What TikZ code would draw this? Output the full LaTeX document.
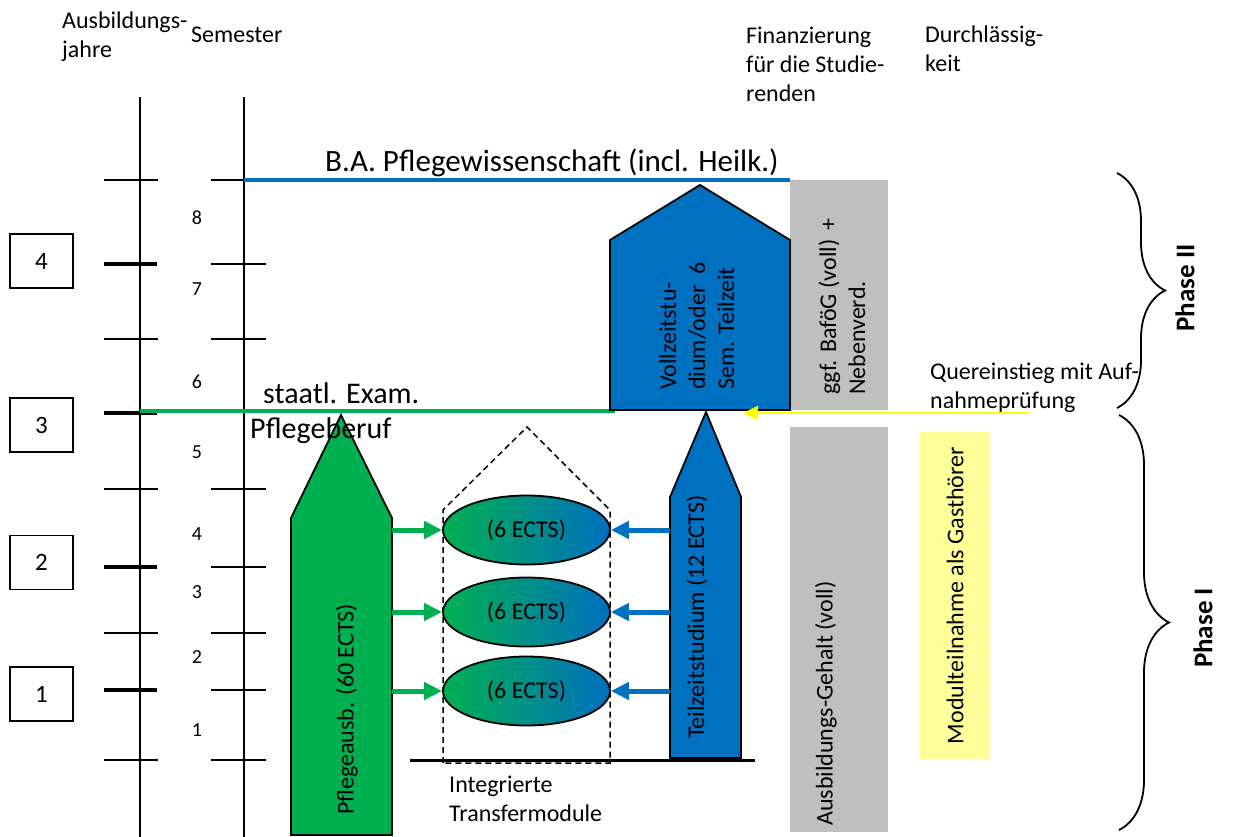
\documentclass[tikz,border=0pt]{standalone}
\usepackage{fontspec}
\setmainfont{Carlito}
\usetikzlibrary{arrows.meta,decorations.pathreplacing,shapes.geometric}
\definecolor{grn}{HTML}{00B050}
\definecolor{blu}{HTML}{0070C0}
\definecolor{gry}{HTML}{BFBFBF}
\definecolor{ylw}{HTML}{FFFF00}
\definecolor{lylw}{HTML}{FFFF99}
\begin{document}
\begin{tikzpicture}[x=1pt,y=-1pt,
  every node/.style={inner sep=0pt,font=\fontsize{24}{29}\selectfont},
  axisline/.style={line width=1.8pt},
  thintick/.style={line width=1.3pt},
  thicktick/.style={line width=4.5pt},
  yearbox/.style={draw,line width=1.3pt,minimum width=63pt,minimum height=54pt,font=\fontsize{25}{30}\selectfont},
  semnum/.style={font=\fontsize{20}{24}\selectfont},
  shapeout/.style={draw=black,line width=1.8pt,line join=miter},
  ects/.style={ellipse,draw,line width=1.8pt,minimum width=167pt,minimum height=69pt,left color=grn,right color=blu},
  garrow/.style={draw=grn,line width=5pt,-{Triangle[length=18pt,width=17pt]}},
  barrow/.style={draw=blu,line width=5pt,-{Triangle[length=18pt,width=17pt]}},
  vtext/.style={rotate=90},
  phasebrace/.style={line width=1.8pt,decorate,decoration={brace,amplitude=#1}},
  phasetext/.style={rotate=90,font=\bfseries\fontsize{27}{32}\selectfont}
]
\useasboundingbox (0,0) rectangle (1252,837);

% background boxes
\node[fill=gry,minimum width=98pt,minimum height=230pt] (fintop) at (839,295) {};
\node[fill=gry,minimum width=98pt,minimum height=405pt] (finbot) at (839,629.5) {};
\node[fill=lylw,rotate=90,minimum width=327pt,minimum height=70pt] (gast) at (955,595.5) {Modulteilnahme als Gasthörer};

% axes
\coordinate (ya) at (140,97); \coordinate (yb) at (140,837);
\coordinate (sa) at (244,97); \coordinate (sb) at (244,837);
\draw[axisline] (ya) -- (yb);
\draw[axisline] (sa) -- (sb);
\foreach \y in {180,339,489,633,760} \draw[thintick] (104,\y) -- (158,\y);
\foreach \y in {264,413,567,690} \draw[thicktick] (104,\y) -- (157,\y);
\foreach \y in {180,264,339,489,567,633,690,760} \draw[thintick] (211,\y) -- (266,\y);

% year boxes
\node[yearbox] (y4) at (41.5,261) {4};
\node[yearbox] (y3) at (41.5,425) {3};
\node[yearbox] (y2) at (41.5,562.5) {2};
\node[yearbox] (y1) at (41.5,694) {1};

% semester numbers
\node[semnum] (s8) at (197,218) {8};
\node[semnum] (s7) at (197,289) {7};
\node[semnum] (s6) at (197,382) {6};
\node[semnum] (s5) at (197,452) {5};
\node[semnum] (s4) at (197,534) {4};
\node[semnum] (s3) at (197,592) {3};
\node[semnum] (s2) at (197,657) {2};
\node[semnum] (s1) at (197,730) {1};

% headers
\node[anchor=north west,align=left] (hjahr) at (62,12) {Ausbildungs-\\jahre};
\node[anchor=base west] (hsem) at (191,43) {Semester};
\node[anchor=north west,align=left] (hfin) at (746,27) {Finanzierung\\für die Studie-\\renden};
\node[anchor=north west,align=left] (hdurch) at (925,26) {Durchlässig-\\keit};

% horizontal lines
\coordinate (baL) at (244,180); \coordinate (baR) at (790,180);
\draw[blu,line width=4pt] (baL) -- (baR);
\coordinate (exL) at (140,411); \coordinate (exR) at (615,411);
\draw[grn,line width=4pt] (exL) -- (exR);
\coordinate (bsL) at (410,760); \coordinate (bsR) at (755,760);
\draw[line width=3pt] (bsL) -- (bsR);

% dashed house
\draw[dash pattern=on 6pt off 4pt,line width=1.5pt] (443,763) -- (443,510) -- (527,427) -- (610,510) -- (610,763) -- cycle;

% green arrow shape
\draw[shapeout,fill=grn] (291,835) -- (291,518) -- (341,415) -- (392,518) -- (392,835) -- cycle;
\coordinate (grR) at (392,600);
% blue house
\draw[shapeout,fill=blu] (610,410) -- (610,240) -- (700,185) -- (790,240) -- (790,410) -- cycle;
% blue arrow shape
\draw[shapeout,fill=blu] (670,758) -- (670,497) -- (706,412) -- (741,497) -- (741,758) -- cycle;
\coordinate (blL) at (670,600);

% ellipses
\node[ects] (e1) at (526.5,530) {(6 ECTS)};
\node[ects] (e2) at (526.5,612) {(6 ECTS)};
\node[ects] (e3) at (526.5,691) {(6 ECTS)};

\foreach \e in {e1,e2,e3} {
  \draw[garrow] (grR |- \e.west) -- (\e.west);
  \draw[barrow] (blL |- \e.east) -- (\e.east);
}

% yellow arrow
\coordinate (qstart) at (1030,413); \coordinate (qend) at (743,413);
\draw[ylw,line width=2pt,-{Triangle[length=15pt,width=14pt]}] (qstart) -- (qend);

% rotated texts
\node[vtext,anchor=west,align=left] (vz) at (697,390) {Vollzeitstu-\\dium/oder\ \ 6\\Sem. Teilzeit};
\node[vtext,anchor=west,align=left] (bafoeg) at (842,395) {ggf. BaföG (voll)\hspace{9pt}+\\Nebenverd.};
\node[vtext,anchor=west] (gehalt) at (826,826) {Ausbildungs-Gehalt (voll)};
\node[vtext,anchor=west] (pfl) at (347,815) {Pflegeausb. (60 ECTS)};
\node[vtext] (teil) at (697,617) {Teilzeitstudium (12 ECTS)};

% other labels
\node[anchor=base west,font=\fontsize{31}{37}\selectfont] (ba) at (325,172) {B.A. Pflegewissenschaft (incl. Heilk.)};
\node[anchor=north west,align=left,font=\fontsize{30}{35}\selectfont] (exam) at (250,382) {\hspace*{13pt}staatl. Exam.\\Pflegeberuf};
\node[anchor=north west,align=left] (quer) at (930,363) {Quereinstieg mit Auf-\\nahmeprüfung};
\node[anchor=north west,align=left] (integ) at (449,776) {Integrierte\\Transfermodule};

% braces
\draw[phasebrace=48pt] (1117,173) -- (1117,408);
\draw[phasebrace=50pt] (1119,415) -- (1119,830);
\node[phasetext] (p2) at (1185,288) {Phase II};
\node[phasetext] (p1) at (1203,628) {Phase I};
\end{tikzpicture}
\end{document}
